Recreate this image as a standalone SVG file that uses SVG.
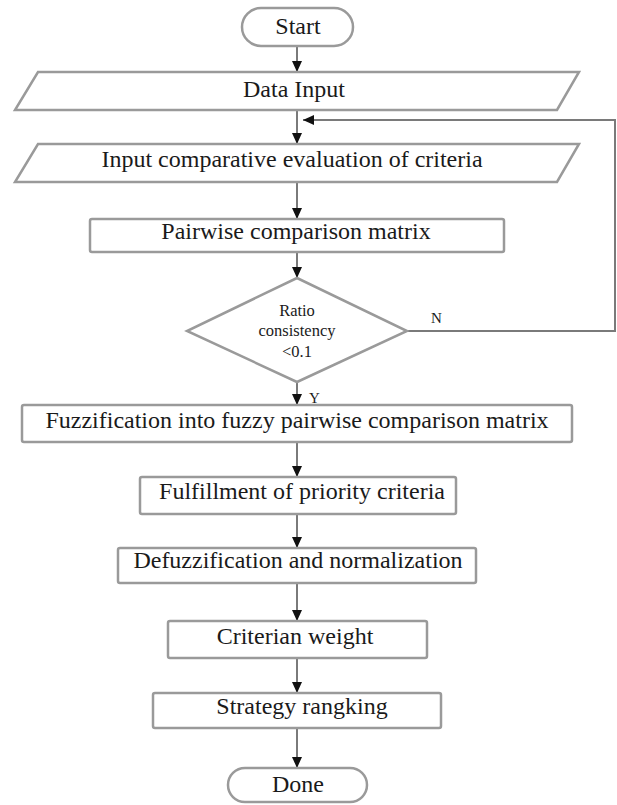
<svg xmlns="http://www.w3.org/2000/svg" width="617" height="805" viewBox="0 0 617 805" font-family="Liberation Serif, Tinos, Times New Roman, DejaVu Serif, serif">
<style>
.shape{fill:#fff;stroke:#9a9a9a;stroke-width:2.5}
.t{font-family:'Liberation Serif', Tinos, 'Times New Roman', 'DejaVu Serif', serif;font-size:24px;fill:#1a1a1a;text-anchor:middle}
.s{font-family:'Liberation Serif', Tinos, 'Times New Roman', 'DejaVu Serif', serif;font-size:16.5px;fill:#1a1a1a;text-anchor:middle}
.lbl{font-family:'Liberation Serif', Tinos, 'Times New Roman', 'DejaVu Serif', serif;font-size:15px;fill:#1a1a1a}
.c{fill:none;stroke:#7a7a7a;stroke-width:2}
</style>
<defs>
<marker id="ah" markerUnits="userSpaceOnUse" markerWidth="12" markerHeight="12" viewBox="0 0 12 12" refX="11" refY="6" orient="auto">
<path d="M0,1 L11,6 L0,11 Z" fill="#111"/>
</marker>
</defs>
<rect width="617" height="805" fill="#fff"/>
<g id="connectors">
<line class="c" x1="297" y1="46" x2="297" y2="72" marker-end="url(#ah)"/>
<line class="c" x1="297" y1="110" x2="297" y2="144" marker-end="url(#ah)"/>
<line class="c" x1="297" y1="182" x2="297" y2="219" marker-end="url(#ah)"/>
<line class="c" x1="297" y1="252" x2="297" y2="278" marker-end="url(#ah)"/>
<line class="c" x1="297" y1="382" x2="297" y2="405" marker-end="url(#ah)"/>
<line class="c" x1="297" y1="442" x2="297" y2="477" marker-end="url(#ah)"/>
<line class="c" x1="297" y1="514" x2="297" y2="548" marker-end="url(#ah)"/>
<line class="c" x1="297" y1="583" x2="297" y2="621" marker-end="url(#ah)"/>
<line class="c" x1="297" y1="658" x2="297" y2="693" marker-end="url(#ah)"/>
<line class="c" x1="297" y1="728" x2="297" y2="768" marker-end="url(#ah)"/>
<polyline class="c" points="407,331 615,331 615,120 303,120" marker-end="url(#ah)"/>
<text class="lbl" x="431" y="323">N</text>
<text class="lbl" x="309" y="403">Y</text>
</g>
<g id="start">
<rect class="shape" x="242" y="8" width="111" height="38" rx="19"/>
<text class="t" x="298" y="34">Start</text>
</g>
<g id="data-input">
<polygon class="shape" points="38,72 579,72 557,110 15,110"/>
<text class="t" x="294" y="97">Data Input</text>
</g>
<g id="input-comparative">
<polygon class="shape" points="38,144 579,144 557,182 15,182"/>
<text class="t" x="292" y="167">Input comparative evaluation of criteria</text>
</g>
<g id="pairwise">
<rect class="shape" x="90" y="219" width="414" height="33" rx="2"/>
<text class="t" x="296" y="239">Pairwise comparison matrix</text>
</g>
<g id="ratio-decision">
<polygon class="shape" points="297,278 407,331 297,382 187,331"/>
<text class="s" x="297" y="316">Ratio</text>
<text class="s" x="297" y="336">consistency</text>
<text class="s" x="297" y="357">&lt;0.1</text>
</g>
<g id="fuzzification">
<rect class="shape" x="22" y="405" width="550" height="37" rx="2"/>
<text class="t" x="297" y="428">Fuzzification into fuzzy pairwise comparison matrix</text>
</g>
<g id="fulfillment">
<rect class="shape" x="140" y="477" width="316" height="37" rx="2"/>
<text class="t" x="302" y="499">Fulfillment of priority criteria</text>
</g>
<g id="defuzzification">
<rect class="shape" x="118" y="548" width="358" height="35" rx="2"/>
<text class="t" x="298" y="568">Defuzzification and normalization</text>
</g>
<g id="criterian-weight">
<rect class="shape" x="168" y="621" width="259" height="37" rx="2"/>
<text class="t" x="295" y="644">Criterian weight</text>
</g>
<g id="strategy-ranking">
<rect class="shape" x="153" y="693" width="288" height="35" rx="2"/>
<text class="t" x="302" y="714">Strategy rangking</text>
</g>
<g id="done">
<rect class="shape" x="228" y="768" width="139" height="34" rx="17"/>
<text class="t" x="298" y="792">Done</text>
</g>
</svg>
